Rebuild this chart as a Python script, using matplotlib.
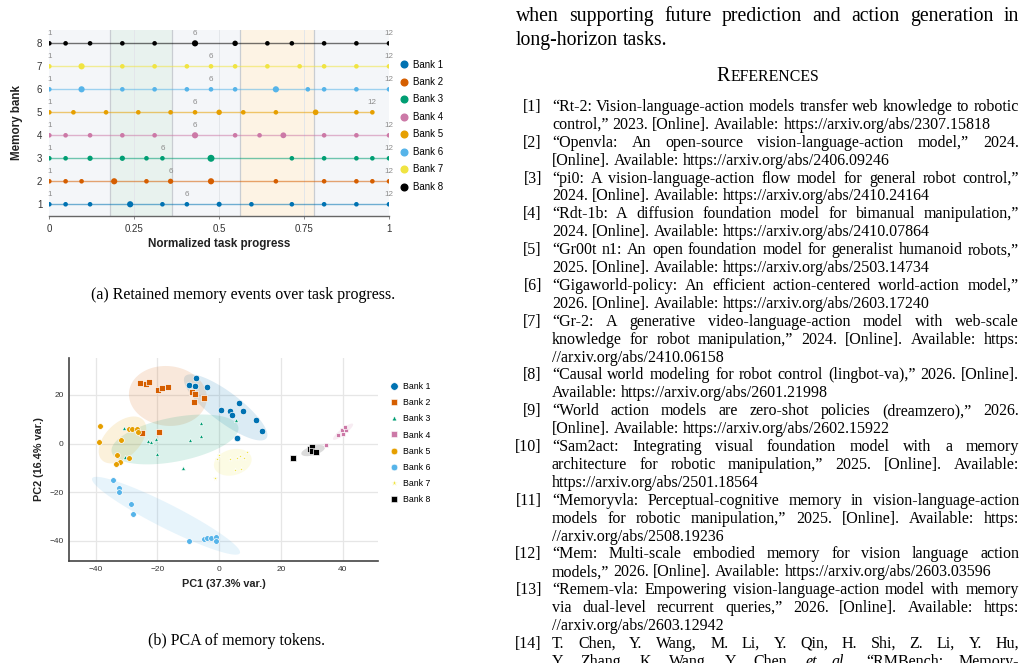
import numpy as np
import matplotlib
matplotlib.use("Agg")
import matplotlib.pyplot as plt
from matplotlib.lines import Line2D

W, H = 1024, 663

bank_names = ["Bank 1", "Bank 2", "Bank 3", "Bank 4", "Bank 5", "Bank 6", "Bank 7", "Bank 8"]
bank_colors = ["#0072B2", "#D55E00", "#009E73", "#CC79A7", "#E69F00", "#56B4E9", "#F0E442", "#000000"]

# (a) retained memory events: normalized task progress of each kept event
bank1_events = [0, 0.048, 0.12, 0.238, 0.333, 0.405, 0.5, 0.595, 0.714, 0.809, 0.904, 1.0]
bank2_events = [0, 0.048, 0.095, 0.191, 0.286, 0.357, 0.476, 0.667, 0.809, 0.904, 0.951, 1.0]
bank3_events = [0, 0.048, 0.12, 0.215, 0.286, 0.333, 0.476, 0.714, 0.809, 0.904, 0.951, 1.0]
bank4_events = [0, 0.048, 0.12, 0.215, 0.31, 0.429, 0.547, 0.619, 0.689, 0.809, 0.904, 1.0]
bank5_events = [0, 0.071, 0.167, 0.262, 0.357, 0.429, 0.5, 0.571, 0.667, 0.784, 0.904, 0.951]
bank6_events = [0, 0.095, 0.215, 0.31, 0.405, 0.476, 0.547, 0.667, 0.761, 0.809, 0.904, 1.0]
bank7_events = [0, 0.095, 0.215, 0.31, 0.405, 0.476, 0.547, 0.642, 0.737, 0.809, 0.904, 1.0]
bank8_events = [0, 0.048, 0.12, 0.215, 0.31, 0.429, 0.547, 0.642, 0.714, 0.809, 0.904, 1.0]

# relative importance of each event (drawn as marker size)
bank1_weight = [1, 1, 1, 1.8, 1, 1, 1.2, 1, 1, 1, 1, 1]
bank2_weight = [1, 1, 1, 1.8, 1, 1.3, 1.8, 1, 1, 1, 1, 1]
bank3_weight = [1, 1, 1.3, 1.3, 1, 1, 2.3, 1, 1, 1, 1, 1]
bank4_weight = [1, 1, 1, 1, 1, 1.8, 1, 1, 1.6, 1, 1, 1]
bank5_weight = [1, 1, 1, 1, 1, 1, 1.4, 1, 1, 1.5, 1, 1]
bank6_weight = [1, 1.8, 1, 1, 1, 1, 1, 1.8, 1, 1, 1, 1]
bank7_weight = [1, 1.8, 1, 1, 1, 1, 1, 1, 1, 1, 1, 1]
bank8_weight = [1, 1, 1, 1, 1, 1.8, 1.4, 1, 1, 1, 1, 1]

phase_starts = [0.18, 0.56]
phase_ends = [0.36, 0.78]
phase_colors = ["#e8f2ee", "#fdf3e4"]

# (b) PCA of memory tokens
bank1_pc1 = [-7.5, -9.8, -7.8, -4.1, 0.5, 3.6, 4.1, 6.3, 7.8, 11.8, 13.9, 5.7]
bank1_pc2 = [27.0, 24.2, 23.9, 23.3, 13.8, 13.3, 11.7, 16.7, 13.6, 9.8, 5.1, 2.2]
bank2_pc1 = [-25.6, -23.7, -22.8, -19.9, -18.6, -16.4, -8.7, -7.8, -5.0, -8.1, -19.4, -25.0]
bank2_pc2 = [24.9, 24.4, 25.3, 22.0, 22.8, 23.3, 21.4, 20.6, 18.9, 17.2, 4.8, 4.3]
bank3_pc1 = [-30.7, -23.0, -22.2, -20.6, -20.2, -30.5, -9.4, -5.9, -6.0, -11.8, 5.3]
bank3_pc2 = [6.5, 1.2, 0.7, 1.8, -4.1, -5.6, 1.5, 8.5, 3.3, -9.9, 9.6]
bank4_pc1 = [34.5, 38.3, 40.0, 39.9, 41.0, 40.6]
bank4_pc2 = [-0.4, 3.7, 4.0, 5.6, 5.6, 6.7]
bank5_pc1 = [-38.5, -38.8, -29.1, -28.3, -26.5, -26.2, -31.8, -33.1, -29.1, -32.0, -33.3]
bank5_pc2 = [7.2, 0.7, 6.2, 6.0, 6.0, 4.7, 1.5, -4.8, -6.0, -7.5, -8.4]
bank6_pc1 = [-34.2, -32.5, -32.5, -28.5, -27.8, -9.7, -4.9, -3.8, -2.7, -1.1, -1.1]
bank6_pc2 = [-14.8, -18.4, -19.9, -24.9, -28.9, -40.2, -39.2, -38.8, -38.8, -38.3, -40.2]
bank7_pc1 = [-0.7, 0.0, 3.6, 5.8, 6.9, 8.1, 9.1, 5.2, 7.0, -1.3]
bank7_pc2 = [-6.4, -4.6, -6.2, -6.0, -5.1, -5.8, -3.3, -10.7, -10.5, -14.3]
bank8_pc1 = [23.9, 29.4, 30.1, 29.9, 31.3]
bank8_pc2 = [-6.0, -2.3, -1.5, -2.9, -3.5]

# confidence ellipses: centre, major half-axis vector, minor half-axis vector (data units)
ellipse_centers = [(2.1, 14.9), (-16.6, 19.6), (-14.3, 1.7), (40.1, 4.9),
                   (-31.3, 1.5), (-17.2, -29.7), (4.4, -7.7), (30.4, -2.9)]
ellipse_major = [(13.2, -12.7), (12.6, -1.0), (20.5, 5.1), (3.2, 3.2),
                 (6.7, 8.2), (23.9, -15.4), (6.0, 2.1), (3.8, 1.4)]
ellipse_minor = [(2.9, 4.9), (0.3, 12.3), (1.4, -8.9), (0.6, -1.0),
                 (3.8, -5.1), (-1.75, -4.4), (1.1, -5.1), (0.4, -1.8)]

pca_markers = ["o", "s", "^", "s", "o", "o", "*", "s"]
pca_sizes = [22, 15, 9, 10, 17, 17, 12, 13]

# right column text
body_lines = ["when supporting future prediction and action generation in",
              "long-horizon tasks."]
references = [
    ("[1]", ["“Rt-2: Vision-language-action models transfer web knowledge to robotic",
             "control,” 2023. [Online]. Available: https://arxiv.org/abs/2307.15818"]),
    ("[2]", ["“Openvla: An open-source vision-language-action model,” 2024.",
             "[Online]. Available: https://arxiv.org/abs/2406.09246"]),
    ("[3]", ["“pi0: A vision-language-action flow model for general robot control,”",
             "2024. [Online]. Available: https://arxiv.org/abs/2410.24164"]),
    ("[4]", ["“Rdt-1b: A diffusion foundation model for bimanual manipulation,”",
             "2024. [Online]. Available: https://arxiv.org/abs/2410.07864"]),
    ("[5]", ["“Gr00t n1: An open foundation model for generalist humanoid robots,”",
             "2025. [Online]. Available: https://arxiv.org/abs/2503.14734"]),
    ("[6]", ["“Gigaworld-policy: An efficient action-centered world-action model,”",
             "2026. [Online]. Available: https://arxiv.org/abs/2603.17240"]),
    ("[7]", ["“Gr-2: A generative video-language-action model with web-scale",
             "knowledge for robot manipulation,” 2024. [Online]. Available: https:",
             "//arxiv.org/abs/2410.06158"]),
    ("[8]", ["“Causal world modeling for robot control (lingbot-va),” 2026. [Online].",
             "Available: https://arxiv.org/abs/2601.21998"]),
    ("[9]", ["“World action models are zero-shot policies (dreamzero),” 2026.",
             "[Online]. Available: https://arxiv.org/abs/2602.15922"]),
    ("[10]", ["“Sam2act: Integrating visual foundation model with a memory",
              "architecture for robotic manipulation,” 2025. [Online]. Available:",
              "https://arxiv.org/abs/2501.18564"]),
    ("[11]", ["“Memoryvla: Perceptual-cognitive memory in vision-language-action",
              "models for robotic manipulation,” 2025. [Online]. Available: https:",
              "//arxiv.org/abs/2508.19236"]),
    ("[12]", ["“Mem: Multi-scale embodied memory for vision language action",
              "models,” 2026. [Online]. Available: https://arxiv.org/abs/2603.03596"]),
    ("[13]", ["“Remem-vla: Empowering vision-language-action model with memory",
              "via dual-level recurrent queries,” 2026. [Online]. Available: https:",
              "//arxiv.org/abs/2603.12942"]),
    ("[14]", ["T. Chen, Y. Wang, M. Li, Y. Qin, H. Shi, Z. Li, Y. Hu,",
              "Y. Zhang, K. Wang, Y. Chen, et al., “RMBench: Memory-"]),
]

SANS = "Liberation Sans"
SERIF = "Liberation Serif"
TICK_COLOR = "#333333"


def fig_box(left, top, right, bottom):
    return [left / W, 1 - bottom / H, (right - left) / W, (bottom - top) / H]


fig = plt.figure(figsize=(W / 100, H / 100), dpi=100)
renderer = fig.canvas.get_renderer()

# ---------------- (a) memory events ----------------
ax1 = fig.add_axes(fig_box(49.3, 30, 389, 216))
ax1.set_facecolor("#f4f6f9")
for s, e, c in zip(phase_starts, phase_ends, phase_colors):
    ax1.axvspan(s, e, color=c, lw=0, zorder=0)
    ax1.axvline(s, color="#c9cdd2", lw=0.9, zorder=1)
    ax1.axvline(e, color="#c9cdd2", lw=0.9, zorder=1)
for v in [0.25, 0.5, 0.75]:
    ax1.axvline(v, color="#e3e6ea", lw=0.7, zorder=0.5)

all_events = [bank1_events, bank2_events, bank3_events, bank4_events,
              bank5_events, bank6_events, bank7_events, bank8_events]
all_weights = [bank1_weight, bank2_weight, bank3_weight, bank4_weight,
               bank5_weight, bank6_weight, bank7_weight, bank8_weight]

for b, (ev, wt, col) in enumerate(zip(all_events, all_weights, bank_colors)):
    yv = b + 1
    ax1.plot([ev[0], ev[-1]], [yv, yv], color=col, lw=1.0, alpha=0.55, zorder=2)
    ax1.scatter(ev, [yv] * len(ev), s=np.array(wt) * 11, color=col, lw=0, zorder=3)
    for i in (0, 5, len(ev) - 1):
        ax1.annotate(str(i + 1), (ev[i], yv), xytext=(0, 4.3), textcoords="offset points",
                     ha="center", va="bottom", fontsize=5.8, color="#8c8c8c", family=SANS)

ax1.set_xlim(0, 1)
ax1.set_ylim(0.49, 8.58)
ax1.set_xticks([0, 0.25, 0.5, 0.75, 1])
ax1.set_xticklabels(["0", "0.25", "0.5", "0.75", "1"])
ax1.set_yticks(range(1, 9))
for sp in ["top", "right", "left"]:
    ax1.spines[sp].set_visible(False)
ax1.spines["bottom"].set_color("#666666")
ax1.spines["bottom"].set_linewidth(1.0)
ax1.tick_params(axis="x", length=2.5, width=0.7, color="#888888", labelsize=7,
                labelcolor=TICK_COLOR, pad=3)
ax1.tick_params(axis="y", length=0, labelsize=7, labelcolor=TICK_COLOR, pad=5)
for lab in ax1.get_xticklabels() + ax1.get_yticklabels():
    lab.set_family(SANS)
ax1.set_xlabel("Normalized task progress", fontsize=8.4, fontweight="bold", family=SANS,
               labelpad=3, color="#222222")
ax1.set_ylabel("Memory bank", fontsize=8.4, fontweight="bold", family=SANS,
               labelpad=10, color="#222222")

handles_a = [Line2D([], [], marker="o", ls="", color=c, markersize=4.8) for c in bank_colors]
ax1.legend(handles_a, bank_names, loc="upper left", bbox_to_anchor=(399 / W, 1 - 59.5 / H),
           bbox_transform=fig.transFigure, frameon=False, borderaxespad=0, borderpad=0,
           handlelength=1.0, handletextpad=0.45, labelspacing=0.77,
           prop={"family": SANS, "size": 7.0})

# ---------------- (b) PCA ----------------
ax2 = fig.add_axes(fig_box(69.3, 358.3, 377.7, 560.7))
ax2.set_xlim(-48.5, 51.3)
ax2.set_ylim(-48.2, 35.1)
ax2.set_xticks([-40, -20, 0, 20, 40])
ax2.set_yticks([-40, -20, 0, 20])
ax2.grid(True, color="#e6e6e6", lw=0.9, zorder=0)
ax2.set_axisbelow(True)

pc1 = [bank1_pc1, bank2_pc1, bank3_pc1, bank4_pc1, bank5_pc1, bank6_pc1, bank7_pc1, bank8_pc1]
pc2 = [bank1_pc2, bank2_pc2, bank3_pc2, bank4_pc2, bank5_pc2, bank6_pc2, bank7_pc2, bank8_pc2]

t = np.linspace(0, 2 * np.pi, 120)
for c, a, m, col in zip(ellipse_centers, ellipse_major, ellipse_minor, bank_colors):
    ex = c[0] + np.cos(t) * a[0] + np.sin(t) * m[0]
    ey = c[1] + np.cos(t) * a[1] + np.sin(t) * m[1]
    ax2.fill(ex, ey, color=col, alpha=0.14, lw=0, zorder=1)

for xs, ys, col, mk, sz in zip(pc1, pc2, bank_colors, pca_markers, pca_sizes):
    ax2.scatter(xs, ys, s=sz, marker=mk, color=col, edgecolors="white", linewidths=0.5, zorder=3)

for sp in ["top", "right"]:
    ax2.spines[sp].set_visible(False)
for sp in ["left", "bottom"]:
    ax2.spines[sp].set_color("#444444")
    ax2.spines[sp].set_linewidth(1.2)
ax2.tick_params(length=0, labelsize=6, labelcolor=TICK_COLOR, pad=4)
for lab in ax2.get_xticklabels() + ax2.get_yticklabels():
    lab.set_family(SANS)
ax2.set_xlabel("PC1 (37.3% var.)", fontsize=7.8, fontweight="bold", family=SANS,
               labelpad=4, color="#222222")
ax2.set_ylabel("PC2 (16.4% var.)", fontsize=7.8, fontweight="bold", family=SANS,
               labelpad=4, color="#222222")

handles_b = [Line2D([], [], marker=mk, ls="", color=col, markeredgecolor="white",
                    markeredgewidth=0.4, markersize=np.sqrt(sz) * 1.15)
             for mk, col, sz in zip(pca_markers, bank_colors, pca_sizes)]
ax2.legend(handles_b, bank_names, loc="upper left", bbox_to_anchor=(390 / W, 1 - 382 / H),
           bbox_transform=fig.transFigure, frameon=False, borderaxespad=0, borderpad=0,
           handlelength=1.0, handletextpad=0.5, labelspacing=0.82,
           prop={"family": SANS, "size": 6.3})

# ---------------- captions ----------------
REF_SIZE = 11.5
fig.text(243 / W, 1 - 299 / H, "(a) Retained memory events over task progress.",
         ha="center", va="baseline", family=SERIF, fontsize=REF_SIZE)
fig.text(236 / W, 1 - 645 / H, "(b) PCA of memory tokens.",
         ha="center", va="baseline", family=SERIF, fontsize=REF_SIZE)


# ---------------- right column text ----------------
def place_line(text, x0, x1, y, size, justify):
    words = text.split(" ")
    objs = []
    for w in words:
        style = "italic" if w in ("et", "al.,") else "normal"
        objs.append(fig.text(0, 0, w, family=SERIF, fontsize=size, style=style,
                             ha="left", va="baseline"))
    widths = [o.get_window_extent(renderer).width for o in objs]
    if justify and len(words) > 1:
        gap = (x1 - x0 - sum(widths)) / (len(words) - 1)
    else:
        gap = size * 100 / 72 * 0.25
    x = x0
    for o, w in zip(objs, widths):
        o.set_position((x / W, 1 - y / H))
        x += w + gap


BODY_SIZE = 14.2
COL_L, COL_R = 516, 1019
place_line(body_lines[0], COL_L, COL_R, 21, BODY_SIZE, True)
place_line(body_lines[1], COL_L, COL_R, 45, BODY_SIZE, False)

# small-caps heading
head_r = fig.text(0, 0, "R", family=SERIF, fontsize=14.5, ha="left", va="baseline")
head_rest = fig.text(0, 0, "EFERENCES", family=SERIF, fontsize=11.4, ha="left", va="baseline")
w_r = head_r.get_window_extent(renderer).width
w_rest = head_rest.get_window_extent(renderer).width
hx = (COL_L + COL_R) / 2 - (w_r + w_rest) / 2
head_r.set_position((hx / W, 1 - 81 / H))
head_rest.set_position(((hx + w_r + 0.5) / W, 1 - 81 / H))

REF_TEXT_L = 552
LABEL_R = 542
line_y = 111
for label, lines in references:
    fig.text(LABEL_R / W, 1 - line_y / H, label, family=SERIF, fontsize=REF_SIZE,
             ha="right", va="baseline")
    for k, ln in enumerate(lines):
        last = k == len(lines) - 1 and label != "[14]"
        place_line(ln, REF_TEXT_L, COL_R, line_y, REF_SIZE, not last)
        line_y += 17.9

fig.savefig("out.png", dpi=100)
